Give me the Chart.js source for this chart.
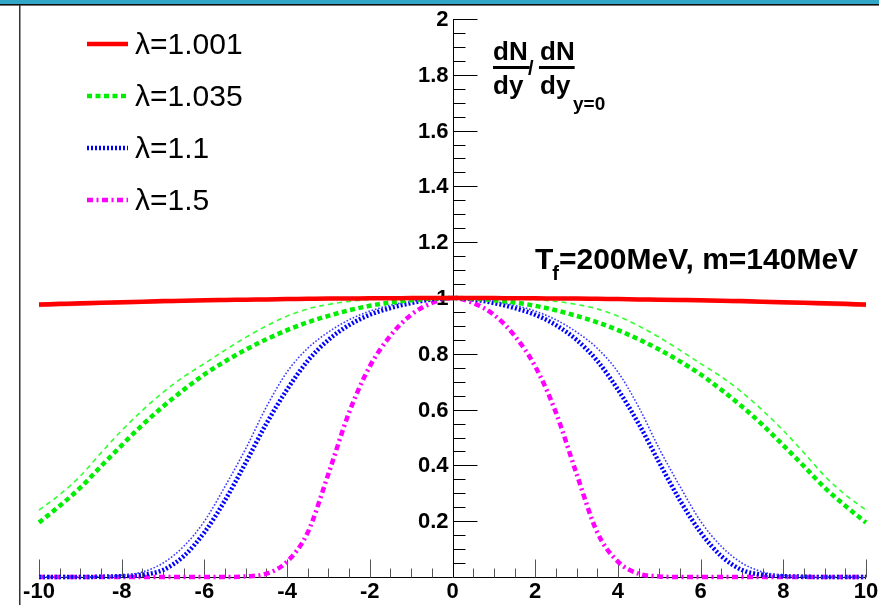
<!DOCTYPE html>
<html><head><meta charset="utf-8">
<script src="https://cdn.jsdelivr.net/npm/chart.js@4.4.1/dist/chart.umd.min.js"></script>
<style>html,body{margin:0;padding:0;background:#fff;overflow:hidden}canvas{display:block}</style>
</head><body>
<canvas id="c" width="879" height="605"></canvas>
<script>
// ---- data ----
const xValues = [-10,-9.5,-9,-8.5,-8,-7.5,-7,-6.5,-6,-5.5,-5,-4.5,-4,-3.5,-3,-2.5,-2,-1.5,-1,-0.5,0,0.5,1,1.5,2,2.5,3,3.5,4,4.5,5,5.5,6,6.5,7,7.5,8,8.5,9,9.5,10];

const red1001 = [0.977,0.979,0.981,0.983,0.985,0.987,0.989,0.990,0.992,0.993,0.994,0.995,0.996,0.997,0.998,0.998,0.999,0.999,1.000,1.000,1.000,
                 1.000,1.000,0.999,0.999,0.998,0.998,0.997,0.996,0.995,0.994,0.993,0.992,0.990,0.989,0.987,0.985,0.983,0.981,0.979,0.977];
const red1001b = [0.972,0.975,0.977,0.980,0.982,0.984,0.986,0.988,0.990,0.991,0.993,0.994,0.995,0.996,0.997,0.998,0.999,0.999,1.000,1.000,1.000,
                  1.000,1.000,0.999,0.999,0.998,0.997,0.996,0.995,0.994,0.993,0.991,0.990,0.988,0.986,0.984,0.982,0.980,0.977,0.975,0.972];
const green1035 = [0.195,0.255,0.320,0.397,0.472,0.545,0.611,0.671,0.726,0.773,0.815,0.852,0.885,0.913,0.936,0.956,0.972,0.984,0.992,0.998,1.000,
                   0.998,0.992,0.984,0.972,0.956,0.936,0.913,0.885,0.852,0.815,0.773,0.726,0.671,0.611,0.545,0.472,0.397,0.320,0.255,0.195];
const green1035b = [0.240,0.295,0.362,0.445,0.525,0.597,0.662,0.718,0.765,0.813,0.859,0.900,0.935,0.961,0.977,0.988,0.994,0.997,0.999,1.000,1.000,
                    1.000,0.999,0.997,0.994,0.988,0.977,0.961,0.935,0.900,0.859,0.813,0.765,0.718,0.662,0.597,0.525,0.445,0.362,0.295,0.240];
const blue11 = [0.000,0.000,0.000,0.001,0.003,0.008,0.025,0.075,0.160,0.275,0.410,0.550,0.672,0.775,0.850,0.903,0.940,0.964,0.982,0.995,1.000,
                0.995,0.982,0.964,0.940,0.903,0.850,0.775,0.672,0.550,0.410,0.275,0.160,0.075,0.025,0.008,0.003,0.001,0.000,0.000,0.000];
const blue11b = [0.000,0.000,0.000,0.002,0.006,0.018,0.050,0.110,0.200,0.325,0.460,0.610,0.735,0.820,0.878,0.922,0.953,0.974,0.988,0.997,1.000,
                 0.997,0.988,0.974,0.953,0.922,0.878,0.820,0.735,0.610,0.460,0.325,0.200,0.110,0.050,0.018,0.006,0.002,0.000,0.000,0.000];
const magenta15 = [0.000,0.000,0.000,0.000,0.000,0.000,0.000,0.000,0.000,0.000,0.002,0.012,0.055,0.160,0.370,0.590,0.755,0.865,0.940,0.982,1.000,
                   0.982,0.940,0.865,0.755,0.590,0.370,0.160,0.055,0.012,0.002,0.000,0.000,0.000,0.000,0.000,0.000,0.000,0.000,0.000,0.000];

const legendLabels = ['\u03bb=1.001','\u03bb=1.035','\u03bb=1.1','\u03bb=1.5'];
const xTickValues = [-10,-8,-6,-4,-2,0,2,4,6,8,10];
const xTickLabels = ['-10','-8','-6','-4','-2','0','2','4','6','8','10'];
const yTickValues = [0.2,0.4,0.6,0.8,1.0,1.2,1.4,1.6,1.8,2.0];
const yTickLabels = ['0.2','0.4','0.6','0.8','1','1.2','1.4','1.6','1.8','2'];

// ---- styles ----
const STY = {
  red:   {color:'#ff0000', width:4.5, dash:[]},
  redB:  {color:'rgba(255,0,0,0.45)', width:3, dash:[]},
  green: {color:'#00ee00', width:4.5, dash:[5,3.5]},
  greenB:{color:'#33ff33', width:1.6, dash:[5,4]},
  blue:  {color:'#0000ff', width:4.5, dash:[2,2]},
  blueB: {color:'#3a3aff', width:1.6, dash:[1.6,1.8]},
  mag:   {color:'#ff00ff', width:4.5, dash:[6,3.5,2,3.5]}
};
const pts = arr => xValues.map((x,i)=>({x:x, y:arr[i]}));
function ds(label, arr, s){
  return {label, data:pts(arr), borderColor:s.color, borderWidth:s.width, borderDash:s.dash,
    pointRadius:0, fill:false, cubicInterpolationMode:'monotone', clip:false, borderCapStyle:'butt'};
}

const FONT = '"Liberation Sans", Arial, Helvetica, sans-serif';

const decor = {
  id:'decor',
  beforeDraw(chart){
    const c = chart.ctx;
    c.save();
    c.fillStyle='#fff'; c.fillRect(0,0,chart.width,chart.height);
    c.fillStyle='#31a6c6'; c.fillRect(0,0,chart.width,4);
    c.fillStyle='#111'; c.fillRect(0,4,chart.width,1.6);
    c.fillStyle='#333'; c.fillRect(19,5,1.5,chart.height-5);
    c.restore();
  },
  beforeDatasetsDraw(chart){
    const c = chart.ctx, xs = chart.scales.x, ys = chart.scales.y;
    const px = v=>xs.getPixelForValue(v), py = v=>ys.getPixelForValue(v);
    c.save();
    // x axis
    const y0 = Math.round(py(0))+0.5;
    c.strokeStyle='#000'; c.lineWidth=1;
    c.beginPath(); c.moveTo(px(xs.min),y0); c.lineTo(px(xs.max),y0); c.stroke();
    c.strokeStyle='#555';
    for(let v=xs.min; v<=xs.max+1e-9; v+=0.5){
      const major = xTickValues.some(t=>Math.abs(t-v)<1e-9);
      const X = Math.round(px(v))+0.5;
      c.beginPath(); c.moveTo(X,y0); c.lineTo(X,y0-(major?18:9)); c.stroke();
    }
    // y axis at x=0
    const x0 = Math.round(px(0))+0.5;
    c.strokeStyle='#000';
    c.beginPath(); c.moveTo(x0,py(ys.min)); c.lineTo(x0,py(ys.max)); c.stroke();
    for(let v=0.05; v<=ys.max+1e-9; v+=0.05){
      const major = yTickValues.some(t=>Math.abs(t-v)<1e-6);
      const Y = Math.round(py(v))+0.5;
      c.beginPath(); c.moveTo(x0,Y); c.lineTo(x0+(major?24:12),Y); c.stroke();
    }
    // labels
    c.fillStyle='#000';
    c.font='bold 22px '+FONT;
    c.textAlign='center'; c.textBaseline='middle';
    xTickValues.forEach((v,i)=>c.fillText(xTickLabels[i], px(v), 592));
    c.textAlign='right';
    yTickValues.forEach((v,i)=>c.fillText(yTickLabels[i], x0-5, py(v)+1));
    c.restore();
  },
  afterDraw(chart){
    const c = chart.ctx;
    c.save();
    // legend
    const styles=[STY.red,STY.green,STY.blue,STY.mag];
    legendLabels.forEach((t,i)=>{
      const y = 44 + i*52;
      const s = styles[i];
      c.strokeStyle=s.color; c.lineWidth=s.width; c.setLineDash(s.dash);
      c.beginPath(); c.moveTo(87,y); c.lineTo(128,y); c.stroke();
      c.setLineDash([]);
      c.fillStyle='#000'; c.font='30px '+FONT; c.textAlign='left'; c.textBaseline='alphabetic';
      c.fillText(t,135,y+10);
    });
    // dN/dy annotation
    c.font='bold 26px '+FONT; c.fillStyle='#000'; c.textAlign='left';
    c.fillText('dN',493,60);
    let w1 = c.measureText('dN').width;
    c.fillRect(493,66,w1+2,3);
    c.font='bold 20px '+FONT;
    c.fillText('/',528,75);
    c.font='bold 26px '+FONT;
    c.fillText('dN',540,60);
    let w2 = c.measureText('dN').width;
    c.fillRect(539,66,w2+1,3);
    c.fillText('dy',493,94);
    c.fillText('dy',540,94);
    c.font='bold 19px '+FONT;
    c.fillText('y=0',573,110);
    // T_f annotation
    let x = 535;
    c.font='bold 30px '+FONT;
    c.fillText('T',x,269); x += c.measureText('T').width - 1;
    c.font='bold 20px '+FONT;
    c.fillText('f',x,280); x += c.measureText('f').width;
    c.font='bold 30px '+FONT;
    c.fillText('=200MeV, m=140MeV',x,269);
    c.restore();
  }
};

new Chart(document.getElementById('c'), {
  type:'line',
  data:{datasets:[
    ds('λ=1.001 b', red1001b, STY.redB),
    ds('λ=1.001', red1001, STY.red),
    ds('λ=1.035 b', green1035b, STY.greenB),
    ds('λ=1.035', green1035, STY.green),
    ds('λ=1.1 b', blue11b, STY.blueB),
    ds('λ=1.1', blue11, STY.blue),
    ds('λ=1.5', magenta15, STY.mag)
  ]},
  options:{
    responsive:false, animation:false, devicePixelRatio:1,
    layout:{padding:{left:39,right:13,top:19,bottom:28}},
    plugins:{legend:{display:false}, tooltip:{enabled:false}},
    scales:{
      x:{type:'linear', min:-10, max:10, display:false},
      y:{type:'linear', min:0, max:2, display:false}
    }
  },
  plugins:[decor]
});
</script>
</body></html>
